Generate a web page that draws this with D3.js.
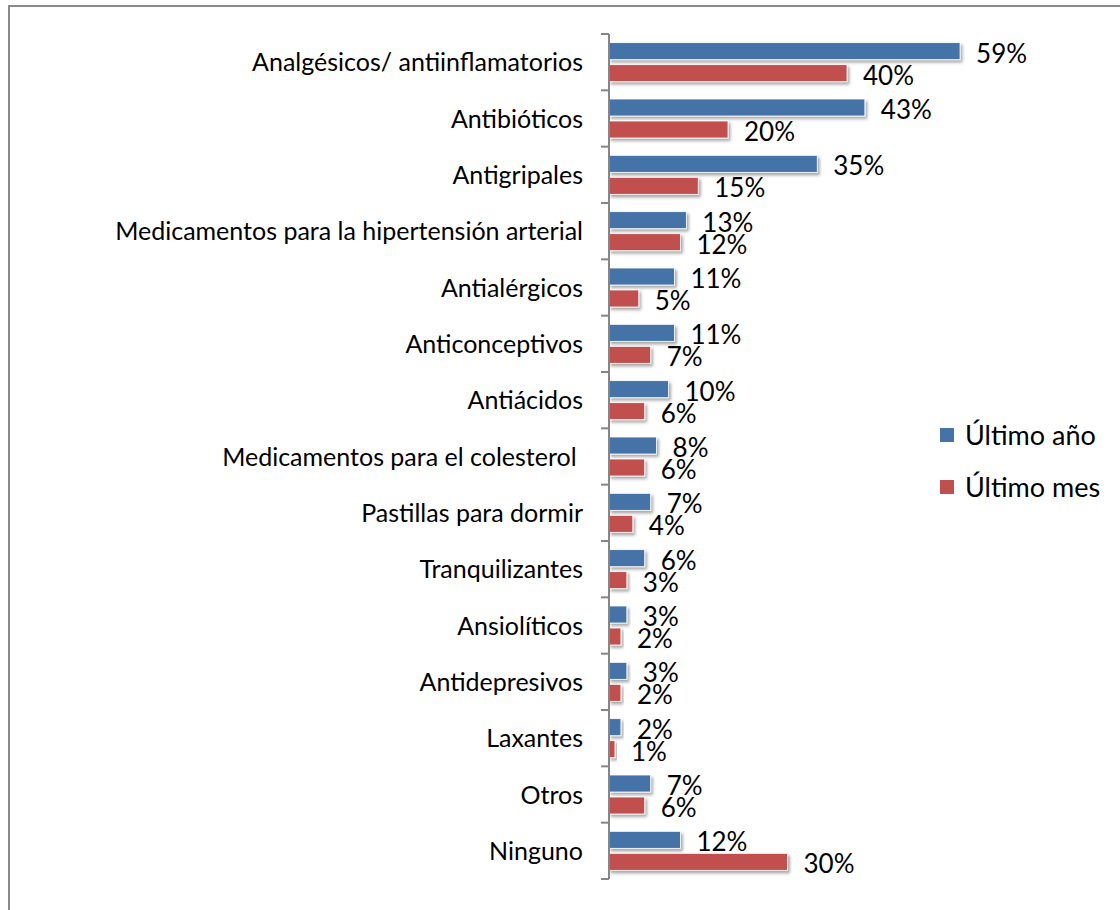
<!DOCTYPE html>
<html>
<head>
<meta charset="utf-8">
<script src="https://cdn.jsdelivr.net/npm/d3@7"></script>
<style>
  html, body { margin: 0; padding: 0; background: #ffffff; }
  svg { display: block; }
  text { font-family: Lato, "Open Sans", sans-serif; fill: #000; }
</style>
</head>
<body>
<script>
// ---- data ----
const categories = [
  "Analgésicos/ antiinflamatorios",
  "Antibióticos",
  "Antigripales",
  "Medicamentos para la hipertensión arterial",
  "Antialérgicos",
  "Anticonceptivos",
  "Antiácidos",
  "Medicamentos para el colesterol ",
  "Pastillas para dormir",
  "Tranquilizantes",
  "Ansiolíticos",
  "Antidepresivos",
  "Laxantes",
  "Otros",
  "Ninguno"
];
const seriesNames = ["Último año", "Último mes"];
const ultimoAnio = [0.59, 0.43, 0.35, 0.13, 0.11, 0.11, 0.10, 0.08, 0.07, 0.06, 0.03, 0.03, 0.02, 0.07, 0.12];
const ultimoMes  = [0.40, 0.20, 0.15, 0.12, 0.05, 0.07, 0.06, 0.06, 0.04, 0.03, 0.02, 0.02, 0.01, 0.06, 0.30];
const colors = ["#4573A7", "#C0504D"];

const W = 1120, H = 910;
const svg = d3.select("body").append("svg").attr("width", W).attr("height", H);

// drop shadow filter
const defs = svg.append("defs");
const f = defs.append("filter").attr("id", "shadow").attr("x", "-10%").attr("y", "-30%").attr("width", "130%").attr("height", "180%");
f.append("feDropShadow").attr("dx", 2).attr("dy", 2.5).attr("stdDeviation", 1.6)
  .attr("flood-color", "#000").attr("flood-opacity", 0.35);

// frame (top and left visible)
svg.append("path").attr("d", `M9,${H + 5} L9,6 L${W + 5},6`)
  .attr("fill", "none").attr("stroke", "#8a8a8a").attr("stroke-width", 2);

const x0 = 609;
const x = d3.scaleLinear().domain([0, 0.6]).range([x0, x0 + 357]);
const y = d3.scaleBand().domain(categories).range([34, 879]).padding(0);
const inner = d3.scaleBand().domain(seriesNames).range([0, y.bandwidth()])
  .paddingInner(0.227).paddingOuter(0.394);

// bars
const rows = categories.map((c, i) => ({ c, vals: [ultimoAnio[i], ultimoMes[i]] }));
const g = svg.append("g");
rows.forEach(r => {
  r.vals.forEach((v, k) => {
    g.append("rect")
      .attr("x", x(0))
      .attr("y", y(r.c) + inner(seriesNames[k]))
      .attr("width", x(v) - x(0))
      .attr("height", inner.bandwidth())
      .attr("fill", colors[k])
      .attr("stroke", "#ffffff").attr("stroke-width", 0.8)
      .attr("filter", "url(#shadow)");
  });
});

// value labels
const fmt = d3.format(".0%");
rows.forEach(r => {
  r.vals.forEach((v, k) => {
    svg.append("text")
      .attr("x", x(v) + 16)
      .attr("y", y(r.c) + inner(seriesNames[k]) + inner.bandwidth() / 2 + 2)
      .attr("dy", "0.36em")
      .style("font-size", "26px")
      .text(fmt(v));
  });
});

// y axis
const axis = d3.axisLeft(y).tickSize(0).tickPadding(0).tickFormat(() => "");
const ag = svg.append("g").attr("transform", `translate(${x0},0)`).call(axis);
ag.select(".domain").attr("stroke", "#868686").attr("stroke-width", 2)
  .attr("d", `M0,34V879`);
// tick marks at band boundaries
const bounds = categories.map(c => y(c)).concat([y.range()[1]]);
ag.selectAll(".bnd").data(bounds).enter().append("line")
  .attr("x1", -8).attr("x2", 0).attr("y1", d => d).attr("y2", d => d)
  .attr("stroke", "#868686").attr("stroke-width", 2);

// category labels
svg.append("g").selectAll("text").data(categories).enter().append("text")
  .attr("x", 583)
  .attr("y", d => y(d) + y.bandwidth() / 2)
  .attr("dy", "0.36em")
  .attr("text-anchor", "end")
  .style("font-size", "25px")
  .style("white-space", "pre")
  .text(d => d);

// legend
const leg = svg.append("g");
seriesNames.forEach((s, k) => {
  const cy = 435 + k * 52;
  leg.append("rect").attr("x", 940).attr("y", cy - 7).attr("width", 14).attr("height", 14).attr("fill", colors[k]);
  leg.append("text").attr("x", 965).attr("y", cy).attr("dy", "0.36em")
    .style("font-size", "27px").text(s);
});
</script>
</body>
</html>
